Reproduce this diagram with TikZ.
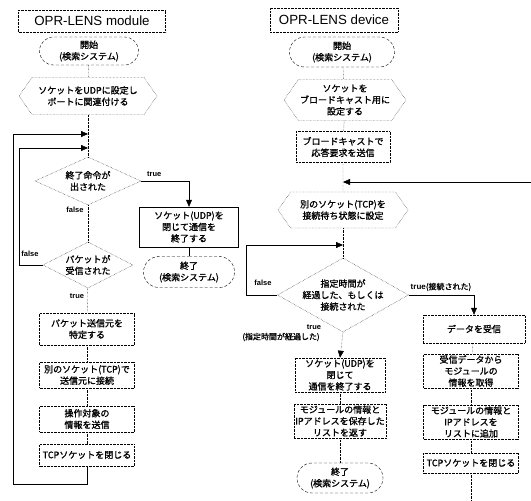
\documentclass[tikz,border=0pt]{standalone}
\usepackage{fontspec}
\setmainfont{Noto Sans CJK JP}[AutoFakeBold=1.2]
\newfontfamily\latinfont{Liberation Sans}
\usetikzlibrary{arrows.meta,shapes.geometric,shapes.misc,shapes.symbols}

\tikzset{
  jp/.style={align=center, font=\bfseries\fontsize{9}{11.5}\selectfont},
  heading/.style={draw, densely dotted, inner sep=0pt, font=\latinfont\fontsize{13.3}{15}\selectfont},
  process/.style={draw, densely dotted, jp, inner sep=1.5pt},
  terminal/.style={draw, rounded rectangle, densely dashed, jp, inner sep=1pt},
  prep/.style={draw, densely dotted, signal, signal to=east and west, signal pointer angle=110, jp, inner sep=1pt},
  decision/.style={draw, densely dotted, diamond, inner sep=0pt},
  branch/.style={font=\latinfont\bfseries\fontsize{7.5}{8}\selectfont, inner sep=1pt},
  flow/.style={densely dotted},
  tip/.style={-{Triangle[length=7pt,width=6pt]}},
}

\begin{document}
\begin{tikzpicture}[x=1pt,y=-1pt]
  \useasboundingbox (0,0) rectangle (531,501);

  % module side
  \node[heading, minimum width=147, minimum height=22] (title1) at (92,21) {OPR-LENS module};
  \node[terminal, minimum width=101, minimum height=28] (start1) at (89,51) {開始\\(検索システム)};
  \node[prep, minimum width=138, minimum height=37] (hex1) at (88,96) {ソケットをUDPに設定し\\ポートに関連付ける};
  \coordinate (m1) at (88,134);
  \coordinate (m2) at (88,148);
  \node[decision, minimum width=106, minimum height=48,
    label={[jp]center:終了命令が\\出された}] (dec1) at (88,181) {};
  \node[process, draw, solid, minimum width=99, minimum height=40] (udp1) at (189,227) {ソケット(UDP)を\\閉じて通信を\\終了する};
  \node[terminal, minimum width=93, minimum height=31] (end1) at (189,272) {終了\\(検索システム)};
  \node[decision, minimum width=90, minimum height=46,
    label={[jp]center:パケットが\\受信された}] (dec2) at (88,265) {};
  \node[process, minimum width=95, minimum height=32] (pkt) at (87,329) {パケット送信元を\\特定する};
  \node[process, minimum width=95, minimum height=26] (tcp1) at (87,375) {別のソケット(TCP)で\\送信元に接続};
  \node[process, minimum width=95, minimum height=26] (info) at (87,419) {操作対象の\\情報を送信};
  \node[process, minimum width=95, minimum height=22] (close1) at (87,455) {TCPソケットを閉じる};

  \draw[flow] (start1) -- (hex1);
  \draw[flow] (hex1) -- (m1) -- (m2) -- (dec1);
  \draw[tip] (dec1.east) -| (udp1.north);
  \draw (udp1) -- (end1);
  \draw[flow] (dec1) -- (dec2);
  \draw[flow] (dec2) -- (pkt);
  \draw[flow] (pkt) -- (tcp1);
  \draw[flow] (tcp1) -- (info);
  \draw[flow] (info) -- (close1);
  \draw[tip] (dec2.west) -| (19,148) -- (m2);
  \draw[tip] (close1.south) |- (13,484) |- (m1);

  \node[branch, anchor=south west] (t1) at (146,178) {true};
  \node[branch] (f1) at (75,210) {false};
  \node[branch] (f2) at (30,254) {false};
  \node[branch] (t2) at (77,296) {true};

  % device side
  \node[heading, minimum width=128, minimum height=24] (title2) at (334,20) {OPR-LENS device};
  \node[terminal, minimum width=107, minimum height=30] (start2) at (342,52) {開始\\(検索システム)};
  \node[prep, minimum width=122, minimum height=41] (hex2) at (345,100) {ソケットを\\ブロードキャスト用に\\設定する};
  \node[process, minimum width=94, minimum height=31] (bcast) at (343,147) {ブロードキャストで\\応答要求を送信};
  \coordinate (m3) at (343,182);
  \coordinate (back) at (531,182);
  \node[prep, minimum width=130, minimum height=36] (hex3) at (343,210) {別のソケット(TCP)を\\接続待ち状態に設定};
  \coordinate (m4) at (343,245);
  \node[decision, minimum width=131, minimum height=74,
    label={[jp]center:指定時間が\\経過した、もしくは\\接続された}] (dec3) at (343,295) {};
  \node[process, minimum width=102, minimum height=28] (recv) at (474,329) {データを受信};
  \node[process, minimum width=95, minimum height=28] (getinfo) at (471,371) {受信データから\\モジュールの\\情報を取得};
  \node[process, minimum width=95, minimum height=30] (addlist) at (471,422) {モジュールの情報と\\IPアドレスを\\リストに追加};
  \node[process, minimum width=95, minimum height=20] (close2) at (471,463) {TCPソケットを閉じる};
  \coordinate (down) at (471,501);
  \node[process, minimum width=90, minimum height=34] (udp2) at (340,375) {ソケット(UDP)を\\閉じて\\通信を終了する};
  \node[process, minimum width=92, minimum height=32] (list) at (340,421) {モジュールの情報と\\IPアドレスを保存した\\リストを返す};
  \node[terminal, minimum width=88, minimum height=30] (end2) at (340,478) {終了\\(検索システム)};

  \draw[flow] (start2) -- (hex2);
  \draw[flow] (hex2) -- (bcast);
  \draw[flow] (bcast) -- (m3) -- (hex3);
  \draw[tip] (back) -- (m3);
  \draw[flow] (hex3) -- (m4) -- (dec3);
  \draw[tip] (dec3.west) -| (246,245) -- (m4);
  \draw[tip] (dec3.east) -| (recv.north);
  \draw[flow, tip] (dec3.south) -- (udp2.north);
  \draw[flow] (udp2) -- (list);
  \draw[flow] (list) -- (end2);
  \draw[flow] (recv) -- (getinfo);
  \draw[flow] (getinfo) -- (addlist);
  \draw[flow] (addlist) -- (close2);
  \draw[flow] (close2) -- (down);

  \node[branch] (f3) at (263,283) {false};
  \node[jp, font=\bfseries\fontsize{8}{9}\selectfont, inner sep=1pt] (t3) at (441,287) {{\latinfont true}(接続された)};
  \node[branch] (t4) at (314,327) {true};
  \node[jp, font=\bfseries\fontsize{8}{9}\selectfont, inner sep=1pt] (t5) at (281,337) {(指定時間が経過した)};
\end{tikzpicture}
\end{document}
